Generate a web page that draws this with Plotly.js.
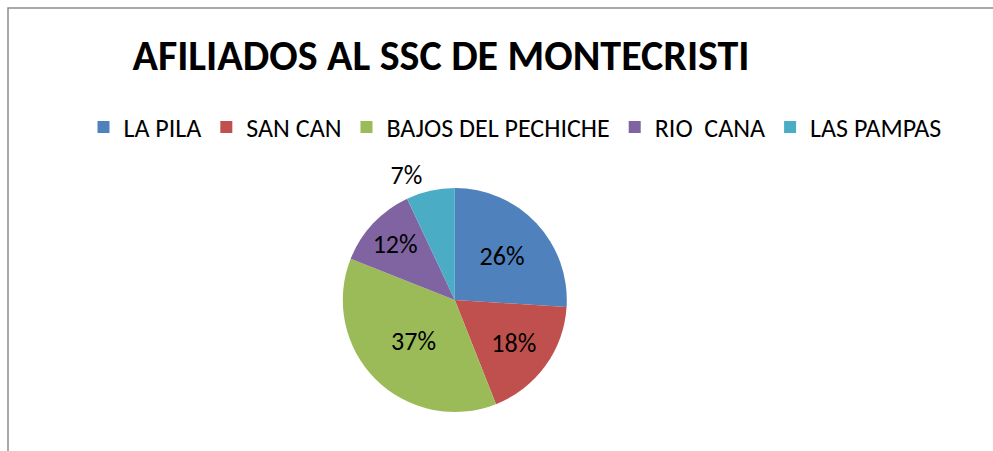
<!DOCTYPE html>
<html>
<head>
<meta charset="utf-8">
<script src="https://cdn.plot.ly/plotly-3.0.1.min.js"></script>
<style>html,body{margin:0;padding:0;background:#fff;}#chart{width:993px;height:451px;}</style>
</head>
<body>
<div id="chart"></div>
<script>
const categories = ["LA PILA", "SAN CAN", "BAJOS DEL PECHICHE", "RIO  CANA", "LAS PAMPAS"];
const values = [26, 18, 37, 12, 7];
const colors = ["#4F81BD", "#C0504D", "#9BBB59", "#8064A2", "#4BACC6"];
const titleText = "AFILIADOS AL SSC DE MONTECRISTI";

const W = 993, H = 451;
const fontFam = "Carlito, 'Liberation Sans Narrow', 'DejaVu Sans Condensed', Arial, sans-serif";

const trace = {
  type: "pie",
  labels: categories,
  values: values,
  sort: false,
  direction: "clockwise",
  rotation: 0,
  marker: {colors: colors, line: {width: 0}},
  textinfo: "percent",
  texttemplate: "%{percent:.0%}",
  textposition: ["inside", "inside", "inside", "inside", "outside"],
  insidetextorientation: "horizontal",
  textfont: {family: fontFam, size: 26, color: "#000"},
  outsidetextfont: {family: fontFam, size: 26, color: "#000"},
  insidetextfont: {family: fontFam, size: 26, color: "#000"},
  domain: {x: [0.25, 0.666], y: [(H - 412) / H, (H - 188) / H]},
  hoverinfo: "label+percent"
};

const layout = {
  width: W, height: H,
  margin: {l: 0, r: 0, t: 0, b: 0},
  paper_bgcolor: "#fff",
  font: {family: fontFam, color: "#000"},
  title: {
    text: "<b>" + titleText + "</b>",
    font: {family: fontFam, size: 42, color: "#000"},
    x: 441 / W, xanchor: "center", xref: "paper",
    y: (H - 55) / H, yanchor: "middle", yref: "paper"
  },
  showlegend: true,
  legend: {
    orientation: "h",
    x: 515 / W, xanchor: "center",
    y: (H - 127) / H, yanchor: "middle",
    font: {family: fontFam, size: 26, color: "#000"},
    traceorder: "normal",
    itemwidth: 30
  },
  shapes: [{
    type: "rect", xref: "paper", yref: "paper",
    x0: 8 / W, x1: 1.05, y0: -0.05, y1: (H - 8) / H,
    line: {color: "#8c8c8c", width: 1.5}, fillcolor: "rgba(0,0,0,0)", layer: "below"
  }]
};

Plotly.newPlot("chart", [trace], layout, {displayModeBar: false, staticPlot: true});
</script>
</body>
</html>
